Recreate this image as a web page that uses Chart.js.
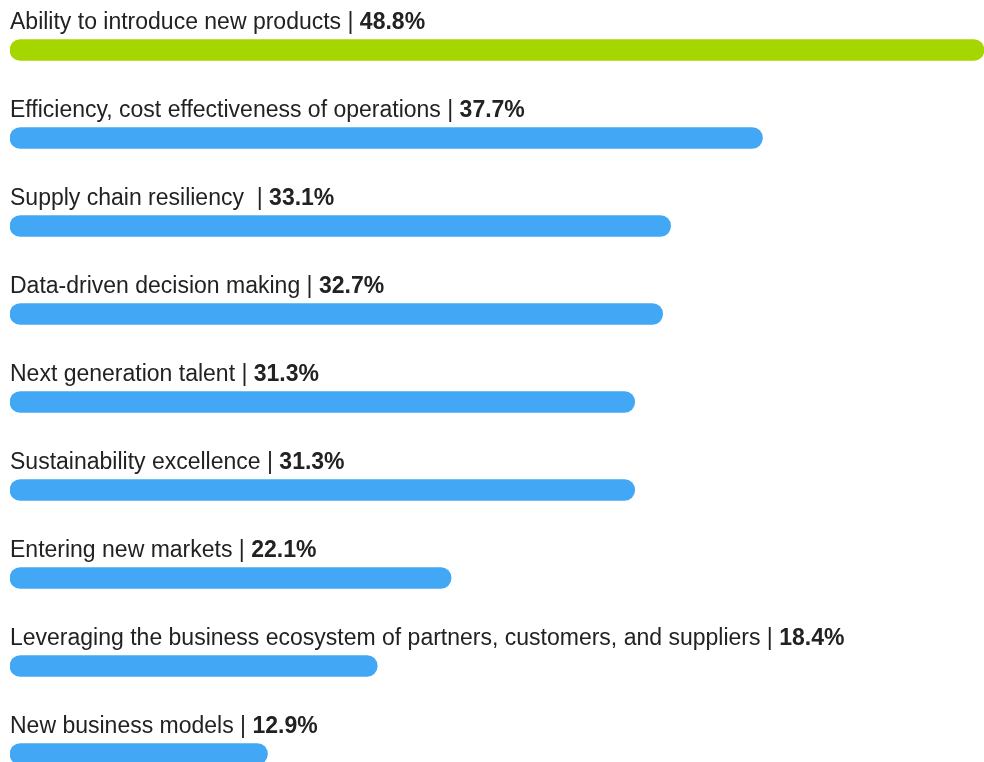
<!DOCTYPE html>
<html>
<head>
<meta charset="utf-8">
<script src="https://cdn.jsdelivr.net/npm/chart.js@4.4.1/dist/chart.umd.min.js"></script>
<style>
  html, body { margin: 0; padding: 0; background: #fff; overflow: hidden; }
  #wrap { width: 984px; height: 798px; position: relative; }
</style>
</head>
<body>
<div id="wrap"><canvas id="chart"></canvas></div>
<script>
const categories = [
    'Ability to introduce new products',
    'Efficiency, cost effectiveness of operations',
    'Supply chain resiliency ',
    'Data-driven decision making',
    'Next generation talent',
    'Sustainability excellence',
    'Entering new markets',
    'Leveraging the business ecosystem of partners, customers, and suppliers',
    'New business models'
];
const shares = [48.8, 37.7, 33.1, 32.7, 31.3, 31.3, 22.1, 18.4, 12.9];

const GREEN = '#a6d600';
const BLUE = '#42a7f4';
const barColors = shares.map((v, i) => i === 0 ? GREEN : BLUE);

// label line above every bar: "name | value%" with the value in bold
const barLabels = {
    id: 'barLabels',
    afterDatasetsDraw(chart) {
        const ctx = chart.ctx;
        const meta = chart.getDatasetMeta(0);
        const left = chart.chartArea.left;
        ctx.save();
        ctx.textBaseline = 'alphabetic';
        ctx.textAlign = 'left';
        ctx.fillStyle = '#222222';
        meta.data.forEach((bar, i) => {
            const y = bar.y - 21;
            const name = categories[i] + ' | ';
            ctx.font = '23px "Liberation Sans", Arial, sans-serif';
            ctx.fillText(name, left, y);
            const w = ctx.measureText(name).width;
            ctx.font = 'bold 23px "Liberation Sans", Arial, sans-serif';
            ctx.fillText(shares[i].toFixed(1) + '%', left + w, y);
        });
        ctx.restore();
    }
};

new Chart(document.getElementById('chart'), {
    type: 'bar',
    data: {
        labels: categories,
        datasets: [{
            data: shares,
            backgroundColor: barColors,
            borderWidth: 0,
            borderRadius: 11,
            borderSkipped: false,
            barThickness: 21
        }]
    },
    options: {
        indexAxis: 'y',
        responsive: true,
        maintainAspectRatio: false,
        animation: false,
        layout: { padding: { left: 10, right: 0, top: 6, bottom: 0 } },
        scales: {
            x: { display: false, min: 0, max: 48.8 },
            y: { display: false }
        },
        plugins: {
            legend: { display: false },
            tooltip: { enabled: false }
        }
    },
    plugins: [barLabels]
});
</script>
</body>
</html>
